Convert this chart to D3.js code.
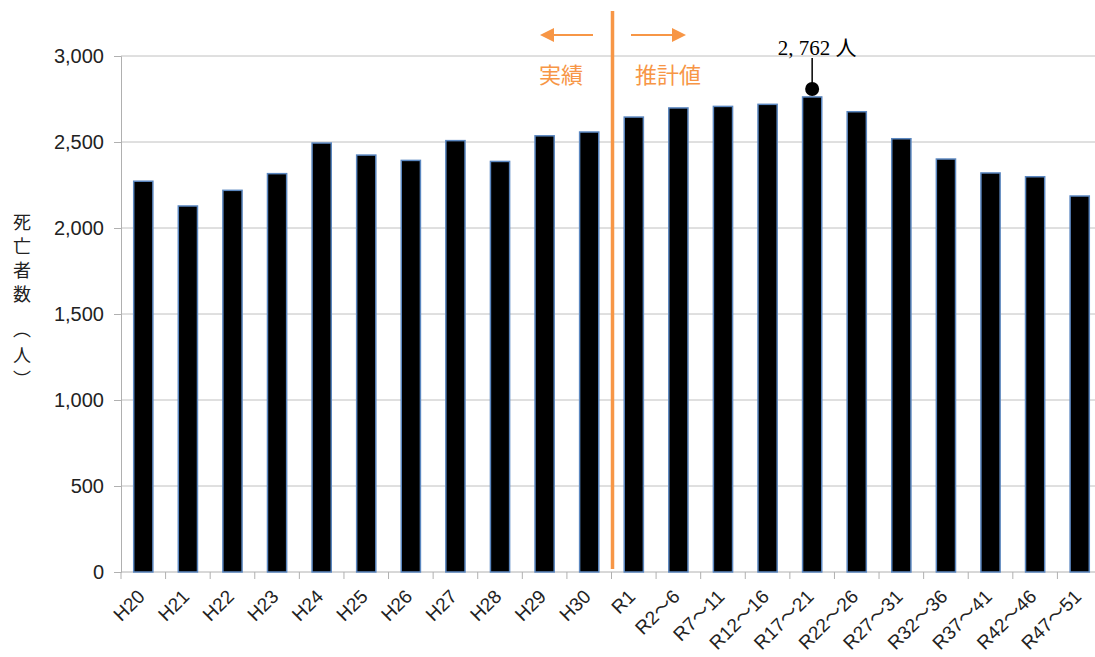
<!DOCTYPE html>
<html><head><meta charset="utf-8">
<script src="https://cdn.jsdelivr.net/npm/d3@7/dist/d3.min.js"></script>
<style>body{margin:0;background:#fff;}svg{display:block;}</style>
</head><body>
<svg id="c" width="1095" height="657"></svg>
<script>
const categories = ["H20","H21","H22","H23","H24","H25","H26","H27","H28","H29","H30","R1","R2〜6","R7〜11","R12〜16","R17〜21","R22〜26","R27〜31","R32〜36","R37〜41","R42〜46","R47〜51"];
const deaths = [2272,2128,2219,2316,2494,2424,2393,2508,2387,2536,2558,2645,2698,2707,2719,2762,2676,2519,2401,2320,2298,2186];
const yTicks = [0,500,1000,1500,2000,2500,3000];
const peakLabel = "2, 762 人";
const pastLabel = "実績";
const futureLabel = "推計値";
const yTitle = ["死","亡","者","数","︵","人","︶"];

const svg = d3.select("#c");
const L = 121, R = 1102, T = 56, B = 572;
const x = d3.scaleBand().domain(categories).range([L, R]).paddingInner(0.57).paddingOuter(0.285);
const xb = d3.scaleBand().domain(categories).range([L, R]);
const y = d3.scaleLinear().domain([0, 3000]).range([B, T]);

// gridlines
svg.append("g").selectAll("line").data(yTicks.filter(d => d > 0)).join("line")
  .attr("x1", L).attr("x2", 1095).attr("y1", d => y(d)).attr("y2", d => y(d))
  .attr("stroke", "#c0c0c0").attr("stroke-width", 1);

// y axis
const yAxis = svg.append("g").attr("transform", `translate(${L},0)`)
  .call(d3.axisLeft(y).tickValues(yTicks).tickSize(7).tickPadding(10).tickFormat(d3.format(",")));
yAxis.select(".domain").attr("stroke", "#b0b0b0");
yAxis.selectAll(".tick line").attr("stroke", "#b0b0b0");
yAxis.selectAll("text").attr("font-family", "Arial, 'Liberation Sans', sans-serif").attr("font-size", 20).attr("fill", "#222");

// x axis
const xAxis = svg.append("g").attr("transform", `translate(0,${B})`);
xAxis.append("line").attr("x1", L).attr("x2", 1095).attr("y1", 0).attr("y2", 0).attr("stroke", "#b0b0b0");
xAxis.selectAll("line.t").data(categories).join("line").attr("class", "t")
  .attr("x1", d => xb(d)).attr("x2", d => xb(d)).attr("y1", 0).attr("y2", 7).attr("stroke", "#b0b0b0");
const xl = xAxis.selectAll("text").data(categories).join("text")
  .attr("transform", d => `translate(${xb(d) + xb.bandwidth()/2 - 2},${21}) rotate(-45)`)
  .attr("text-anchor", "end").attr("dy", "0.35em")
  .attr("font-family", "Arial, 'Liberation Sans', sans-serif").attr("font-size", 19).attr("fill", "#222");
xl.each(function(d) {
  const parts = d.split("〜");
  const t = d3.select(this);
  parts.forEach((p, i) => {
    if (i > 0) t.append("tspan").attr("font-family", "'Noto Sans CJK JP', sans-serif").text("〜");
    t.append("tspan").text(p);
  });
});

// bars
svg.append("g").selectAll("rect").data(deaths).join("rect")
  .attr("x", (d, i) => x(categories[i]))
  .attr("y", d => y(d))
  .attr("width", x.bandwidth())
  .attr("height", d => B - y(d))
  .attr("fill", "#000").attr("stroke", "#5b87c0").attr("stroke-width", 1.5);

// divider
const divX = xb("R1") + 1;
svg.append("line").attr("x1", divX).attr("x2", divX).attr("y1", 11).attr("y2", 569)
  .attr("stroke", "#f79646").attr("stroke-width", 3.5);

// arrows
const orange = "#f79646";
function arrow(x1, x2, yy) {
  const dir = Math.sign(x2 - x1);
  svg.append("line").attr("x1", x1).attr("x2", x2 - dir * 10).attr("y1", yy).attr("y2", yy)
    .attr("stroke", orange).attr("stroke-width", 2);
  svg.append("path").attr("d", `M${x2},${yy} L${x2 - dir * 14},${yy - 7} L${x2 - dir * 14},${yy + 7} Z`).attr("fill", orange);
}
arrow(593, 540, 35);
arrow(631, 686, 35);
svg.append("text").attr("x", 561).attr("y", 83).attr("text-anchor", "middle")
  .attr("font-family", "'Noto Sans CJK JP', sans-serif").attr("font-size", 22).attr("fill", orange).text(pastLabel);
svg.append("text").attr("x", 668).attr("y", 83).attr("text-anchor", "middle")
  .attr("font-family", "'Noto Sans CJK JP', sans-serif").attr("font-size", 22).attr("fill", orange).text(futureLabel);

// peak annotation
const pi = deaths.indexOf(2762);
const px = x(categories[pi]) + x.bandwidth() / 2;
const py = y(deaths[pi]) - 8;
svg.append("line").attr("x1", px).attr("x2", px).attr("y1", 58).attr("y2", py).attr("stroke", "#000").attr("stroke-width", 1.5);
svg.append("circle").attr("cx", px).attr("cy", py).attr("r", 7).attr("fill", "#000");
svg.append("text").attr("x", px + 5).attr("y", 55).attr("text-anchor", "middle")
  .attr("font-family", "'Liberation Serif', 'DejaVu Serif', 'Noto Sans CJK JP', serif").attr("font-size", 21).attr("fill", "#000").text(peakLabel);

// y title (vertical)
const ty = [229, 253, 277, 301, 336, 362, 386];
svg.append("g").selectAll("text").data(yTitle).join("text")
  .attr("x", 22).attr("y", (d, i) => ty[i]).attr("text-anchor", "middle")
  .attr("font-family", "'Noto Sans CJK JP', sans-serif").attr("font-size", 18).attr("fill", "#222")
  .text(d => d);
</script>
</body></html>
